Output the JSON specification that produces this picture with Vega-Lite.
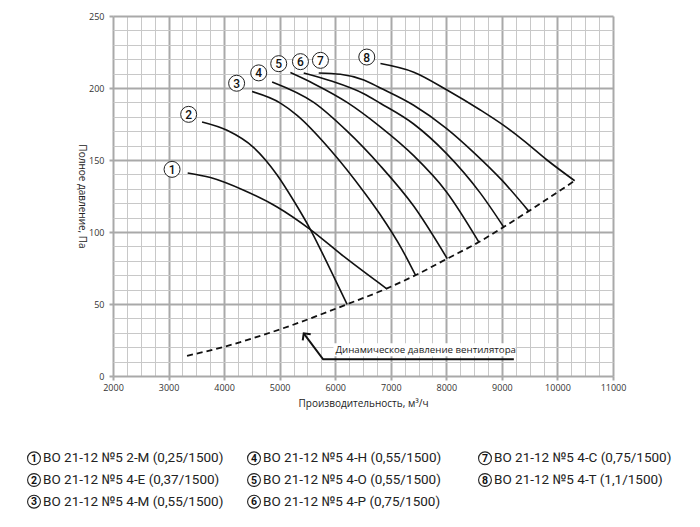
{
  "$schema": "https://vega.github.io/schema/vega-lite/v6.json",
  "description": "ВО 21-12 №5: аэродинамические характеристики",
  "width": 500,
  "height": 360,
  "autosize": {"type": "none"},
  "padding": {"left": 113, "top": 16, "right": 87, "bottom": 151},
  "config": {
    "view": {"stroke": null},
    "font": "Open Sans"
  },
  "datasets": {
    "curves": [
      {"fan": 1, "q": 3344, "p": 141},
      {"fan": 1, "q": 3753, "p": 137.8},
      {"fan": 1, "q": 4353, "p": 129},
      {"fan": 1, "q": 4954, "p": 117.4},
      {"fan": 1, "q": 5554, "p": 101.7},
      {"fan": 1, "q": 6154, "p": 83},
      {"fan": 1, "q": 6923, "p": 60.7},
      {"fan": 2, "q": 3603, "p": 176.4},
      {"fan": 2, "q": 4053, "p": 170.6},
      {"fan": 2, "q": 4533, "p": 158.6},
      {"fan": 2, "q": 4954, "p": 139.6},
      {"fan": 2, "q": 5253, "p": 121.7},
      {"fan": 2, "q": 5554, "p": 101.7},
      {"fan": 2, "q": 5854, "p": 78.5},
      {"fan": 2, "q": 6214, "p": 49.8},
      {"fan": 3, "q": 4503, "p": 197.5},
      {"fan": 3, "q": 5013, "p": 189.5},
      {"fan": 3, "q": 5314, "p": 181},
      {"fan": 3, "q": 5914, "p": 157},
      {"fan": 3, "q": 6514, "p": 128},
      {"fan": 3, "q": 6812, "p": 112},
      {"fan": 3, "q": 7202, "p": 88},
      {"fan": 3, "q": 7445, "p": 70},
      {"fan": 4, "q": 4864, "p": 204.2},
      {"fan": 4, "q": 5613, "p": 190},
      {"fan": 4, "q": 6214, "p": 170},
      {"fan": 4, "q": 6812, "p": 146},
      {"fan": 4, "q": 7412, "p": 118},
      {"fan": 4, "q": 8016, "p": 81.5},
      {"fan": 5, "q": 5193, "p": 210.7},
      {"fan": 5, "q": 5613, "p": 203},
      {"fan": 5, "q": 6214, "p": 190},
      {"fan": 5, "q": 6812, "p": 173},
      {"fan": 5, "q": 7412, "p": 153},
      {"fan": 5, "q": 8000, "p": 128},
      {"fan": 5, "q": 8586, "p": 93},
      {"fan": 6, "q": 5433, "p": 210.4},
      {"fan": 6, "q": 5914, "p": 205},
      {"fan": 6, "q": 6514, "p": 196},
      {"fan": 6, "q": 6812, "p": 189.4},
      {"fan": 6, "q": 7412, "p": 175},
      {"fan": 6, "q": 8000, "p": 154.6},
      {"fan": 6, "q": 8612, "p": 127},
      {"fan": 6, "q": 9032, "p": 103.5},
      {"fan": 7, "q": 5703, "p": 210.4},
      {"fan": 7, "q": 6094, "p": 209.5},
      {"fan": 7, "q": 6514, "p": 205.5},
      {"fan": 7, "q": 6812, "p": 200},
      {"fan": 7, "q": 7412, "p": 188},
      {"fan": 7, "q": 8000, "p": 172},
      {"fan": 7, "q": 8500, "p": 155},
      {"fan": 7, "q": 9000, "p": 136},
      {"fan": 7, "q": 9482, "p": 114.5},
      {"fan": 8, "q": 6814, "p": 217},
      {"fan": 8, "q": 7414, "p": 211},
      {"fan": 8, "q": 8012, "p": 198.6},
      {"fan": 8, "q": 8612, "p": 184.7},
      {"fan": 8, "q": 9032, "p": 174},
      {"fan": 8, "q": 9392, "p": 163.5},
      {"fan": 8, "q": 9812, "p": 150},
      {"fan": 8, "q": 10310, "p": 135.6}
    ],
    "dynamic": [
      {"q": 3333, "p": 14},
      {"q": 4000, "p": 20.3},
      {"q": 5013, "p": 32.5},
      {"q": 6214, "p": 49.8},
      {"q": 6923, "p": 60.7},
      {"q": 7445, "p": 70},
      {"q": 8016, "p": 81.5},
      {"q": 8586, "p": 93},
      {"q": 9032, "p": 103.5},
      {"q": 9482, "p": 114.5},
      {"q": 10310, "p": 135.6}
    ],
    "tags": [
      {"n": "1", "q": 3063, "p": 143.5},
      {"n": "2", "q": 3362, "p": 181.7},
      {"n": "3", "q": 4225, "p": 203.3},
      {"n": "4", "q": 4623, "p": 210.5},
      {"n": "5", "q": 4983, "p": 216.9},
      {"n": "6", "q": 5374, "p": 218.3},
      {"n": "7", "q": 5734, "p": 219.2},
      {"n": "8", "q": 6568, "p": 221.5}
    ],
    "legend": [
      {"col": 0, "row": 0, "n": "1", "label": "ВО 21-12 №5 2-М (0,25/1500)"},
      {"col": 0, "row": 1, "n": "2", "label": "ВО 21-12 №5 4-Е (0,37/1500)"},
      {"col": 0, "row": 2, "n": "3", "label": "ВО 21-12 №5 4-М (0,55/1500)"},
      {"col": 1, "row": 0, "n": "4", "label": "ВО 21-12 №5 4-Н (0,55/1500)"},
      {"col": 1, "row": 1, "n": "5", "label": "ВО 21-12 №5 4-О (0,55/1500)"},
      {"col": 1, "row": 2, "n": "6", "label": "ВО 21-12 №5 4-Р (0,75/1500)"},
      {"col": 2, "row": 0, "n": "7", "label": "ВО 21-12 №5 4-С (0,75/1500)"},
      {"col": 2, "row": 1, "n": "8", "label": "ВО 21-12 №5 4-Т (1,1/1500)"}
    ]
  },
  "layer": [
    {
      "encoding": {
        "x": {
          "field": "q",
          "type": "quantitative",
          "scale": {"domain": [2000, 11000], "nice": false, "zero": false},
          "axis": {
            "title": "Производительность, м³/ч",
            "values": [2000, 2250, 2500, 2750, 3000, 3250, 3500, 3750, 4000, 4250, 4500, 4750, 5000, 5250, 5500, 5750, 6000, 6250, 6500, 6750, 7000, 7250, 7500, 7750, 8000, 8250, 8500, 8750, 9000, 9250, 9500, 9750, 10000, 10250, 10500, 10750, 11000],
            "format": "d",
            "labelExpr": "datum.value % 1000 === 0 ? datum.label : ''",
            "labelOverlap": false,
            "labelFlush": false,
            "labelFontSize": 9,
            "labelColor": "#333",
            "labelPadding": 3,
            "domain": false,
            "grid": true,
            "gridColor": {"condition": {"test": "datum.value % 1000 === 0", "value": "#a9a9a9"}, "value": "#c8c8c8"},
            "gridWidth": {"condition": {"test": "datum.value % 1000 === 0", "value": 2}, "value": 1},
            "tickColor": {"condition": {"test": "datum.value % 1000 === 0", "value": "#a9a9a9"}, "value": "rgba(0,0,0,0)"},
            "tickWidth": 2,
            "tickSize": 4,
            "titleFontSize": 10,
            "titleFontWeight": "normal",
            "titleColor": "#222",
            "titlePadding": 6
          }
        },
        "y": {
          "field": "p",
          "type": "quantitative",
          "scale": {"domain": [0, 250], "nice": false},
          "axis": {
            "title": "Полное давление, Па",
            "values": [0, 10, 20, 30, 40, 50, 60, 70, 80, 90, 100, 110, 120, 130, 140, 150, 160, 170, 180, 190, 200, 210, 220, 230, 240, 250],
            "labelExpr": "datum.value % 50 === 0 ? datum.label : ''",
            "labelOverlap": false,
            "labelFlush": false,
            "labelFontSize": 9,
            "labelColor": "#333",
            "labelPadding": 5,
            "domain": false,
            "grid": true,
            "gridColor": {"condition": {"test": "datum.value % 50 === 0", "value": "#a9a9a9"}, "value": "#c8c8c8"},
            "gridWidth": {"condition": {"test": "datum.value % 50 === 0", "value": 2}, "value": 1},
            "tickColor": {"condition": {"test": "datum.value % 50 === 0", "value": "#a9a9a9"}, "value": "rgba(0,0,0,0)"},
            "tickWidth": 2,
            "tickSize": 4,
            "titleAngle": 90,
            "titleBaseline": "top",
            "titleFontSize": 10,
            "titleFontWeight": "normal",
            "titleColor": "#222",
            "titlePadding": 2
          }
        }
      },
      "layer": [
        {
          "data": {"name": "dynamic"},
          "mark": {"type": "line", "color": "#111", "strokeWidth": 1.8, "strokeDash": [6, 4], "interpolate": "monotone"}
        },
        {
          "data": {"name": "curves"},
          "mark": {"type": "line", "color": "#111", "strokeWidth": 1.6, "interpolate": "monotone"},
          "encoding": {"detail": {"field": "fan", "type": "nominal"}}
        },
        {
          "data": {"values": [{"q": 5968, "q2": 9246, "p": 13.7, "p2": 22.7}]},
          "mark": {"type": "rect", "color": "white"},
          "encoding": {"x2": {"field": "q2"}, "y2": {"field": "p2"}}
        },
        {
          "data": {"values": [{"q": 6004, "p": 17.9, "t": "Динамическое давление вентилятора"}]},
          "mark": {"type": "text", "align": "left", "baseline": "middle", "fontSize": 9.7, "color": "#222", "font": "Open Sans"},
          "encoding": {"text": {"field": "t"}}
        },
        {
          "data": {"values": [{"o": 0, "q": 9215, "p": 11.6}, {"o": 1, "q": 5782, "p": 11.6}, {"o": 2, "q": 5433, "p": 29.6}]},
          "mark": {"type": "line", "color": "#111", "strokeWidth": 2},
          "encoding": {"order": {"field": "o", "type": "quantitative"}}
        },
        {
          "data": {"values": [{"q": 5433, "p": 29.6}]},
          "mark": {"type": "point", "shape": "M-1,1L0,0L1,1", "angle": 323, "size": 100, "filled": false, "stroke": "#111", "strokeWidth": 2, "opacity": 1}
        },
        {
          "data": {"name": "tags"},
          "mark": {"type": "point", "shape": "circle", "size": 256, "filled": true, "fill": "white", "stroke": "#222", "strokeWidth": 1, "opacity": 1}
        },
        {
          "data": {"name": "tags"},
          "mark": {"type": "text", "font": "Roboto", "fontSize": 12, "fontWeight": 500, "color": "#111", "baseline": "middle", "dy": 0.5},
          "encoding": {"text": {"field": "n"}}
        }
      ]
    },
    {
      "data": {"name": "legend"},
      "encoding": {
        "x": {"field": "col", "type": "quantitative", "scale": {"domain": [0, 1, 2], "range": [-79, 141, 372]}, "axis": null},
        "y": {"field": "row", "type": "quantitative", "scale": {"domain": [0, 2], "range": [442.3, 485.7]}, "axis": null}
      },
      "layer": [
        {
          "mark": {"type": "point", "shape": "circle", "size": 165, "filled": true, "fill": "white", "stroke": "#222", "strokeWidth": 1.1, "opacity": 1}
        },
        {
          "mark": {"type": "text", "font": "Roboto", "fontSize": 10.5, "fontWeight": "bold", "color": "#111", "baseline": "middle", "dy": 0.5},
          "encoding": {"text": {"field": "n"}}
        },
        {
          "mark": {"type": "text", "font": "Roboto", "fontSize": 13.5, "color": "#222", "align": "left", "baseline": "middle", "dx": 9},
          "encoding": {"text": {"field": "label"}}
        }
      ]
    }
  ],
  "resolve": {"scale": {"x": "independent", "y": "independent"}}
}
